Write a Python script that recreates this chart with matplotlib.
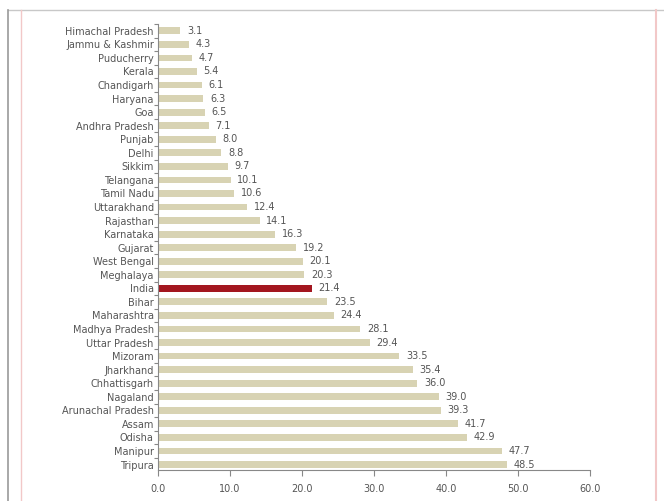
import matplotlib.pyplot as plt
from matplotlib.lines import Line2D

states = ['Himachal Pradesh', 'Jammu & Kashmir', 'Puducherry', 'Kerala', 'Chandigarh',
          'Haryana', 'Goa', 'Andhra Pradesh', 'Punjab', 'Delhi', 'Sikkim', 'Telangana',
          'Tamil Nadu', 'Uttarakhand', 'Rajasthan', 'Karnataka', 'Gujarat', 'West Bengal',
          'Meghalaya', 'India', 'Bihar', 'Maharashtra', 'Madhya Pradesh', 'Uttar Pradesh',
          'Mizoram', 'Jharkhand', 'Chhattisgarh', 'Nagaland', 'Arunachal Pradesh', 'Assam',
          'Odisha', 'Manipur', 'Tripura']
values = [3.1, 4.3, 4.7, 5.4, 6.1, 6.3, 6.5, 7.1, 8.0, 8.8, 9.7, 10.1, 10.6, 12.4, 14.1,
          16.3, 19.2, 20.1, 20.3, 21.4, 23.5, 24.4, 28.1, 29.4, 33.5, 35.4, 36.0, 39.0,
          39.3, 41.7, 42.9, 47.7, 48.5]
xticks = [0, 10, 20, 30, 40, 50, 60]

beige = '#d8d3b3'
red = '#a3161f'
grey = '#555555'

fig = plt.figure(figsize=(6.64, 5.01), dpi=100)
ax = fig.add_axes([0.238, 0.062, 0.651, 0.890])

pos = list(range(len(states)))
colors = [red if s == 'India' else beige for s in states]
ax.barh(pos, values, height=0.5, color=colors)
for p, v in zip(pos, values):
    ax.text(v + 0.9, p, f'{v:.1f}', va='center', ha='left', fontsize=7, color=grey)

ax.set_xlim(0, 60)
ax.set_ylim(32.4, -0.5)
ax.set_yticks(pos)
ax.set_yticklabels(states, fontsize=7, color=grey)
ax.set_yticks([p + 0.5 for p in pos[:-1]] + [-0.5], minor=True)
ax.tick_params(axis='y', which='major', length=0, pad=3)
ax.tick_params(axis='y', which='minor', length=3, color='#888888', width=0.8)
ax.set_xticks(xticks)
ax.set_xticklabels([f'{t:.1f}' for t in xticks], fontsize=7, color=grey)
ax.tick_params(axis='x', length=4, color='#888888', width=0.8, pad=6)

for s in ['top', 'right']:
    ax.spines[s].set_visible(False)
for s in ['left', 'bottom']:
    ax.spines[s].set_color('#888888')
    ax.spines[s].set_linewidth(0.8)

# page frame decorations
fig.add_artist(Line2D([8 / 664, 1], [1 - 10 / 501, 1 - 10 / 501], color='#c8c8c8', lw=1))
fig.add_artist(Line2D([8 / 664, 8 / 664], [0, 1 - 10 / 501], color='#9a9a9a', lw=1.2))
fig.add_artist(Line2D([21 / 664, 21 / 664], [0, 1 - 10 / 501], color='#f2c8c8', lw=1))
fig.add_artist(Line2D([656 / 664, 656 / 664], [0, 1 - 10 / 501], color='#f2c8c8', lw=1.5))

fig.savefig('out.png', dpi=100)
